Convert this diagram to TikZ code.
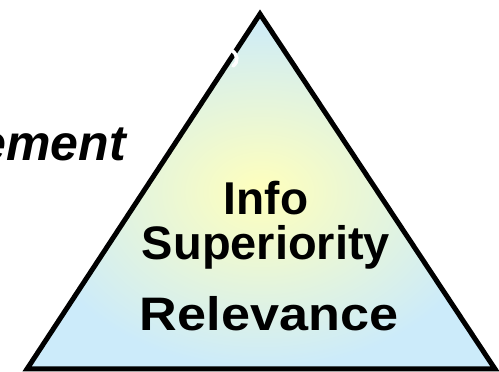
\documentclass[tikz,border=0pt]{standalone}
\usepackage{fontspec}
\setmainfont{Liberation Sans}
\begin{document}
\begin{tikzpicture}[x=1pt,y=1pt,
  lbl/.style={font=\bfseries\fontsize{#1}{#1}\selectfont, inner sep=0pt, anchor=base},
  tri/.style={draw=black, line width=5pt, line join=miter}]
\definecolor{triblue}{RGB}{204,235,250}
\definecolor{triyellow}{RGB}{255,255,188}
\useasboundingbox (0,0) rectangle (499,372);
\clip (0,0) rectangle (499,372);
% triangle (image y flipped: Y = 372 - y)
\coordinate (apex) at (260,358);
\coordinate (bl) at (27,3);
\coordinate (br) at (495,3);
\shade[inner color=triyellow, outer color=triblue] (apex) -- (bl) -- (br) -- cycle;
\draw[tri] (apex) -- (bl) -- (br) -- cycle;
% white fragment on the left edge
\draw[white, line width=3.5pt, line cap=round] (231,322) .. controls (238,318) and (239,310) .. (233,306);
% texts
\node[lbl=46] (info) at (266,157) {Info};
\node[lbl=47] (sup) at (266,112) {Superiority};
\node[lbl=47, xscale=1.11] (rel) at (269,41) {Relevance};
\node[font=\bfseries\itshape\fontsize{50}{50}\selectfont, inner sep=0pt, anchor=base east] (em) at (126,211) {ement};
\end{tikzpicture}
\end{document}
